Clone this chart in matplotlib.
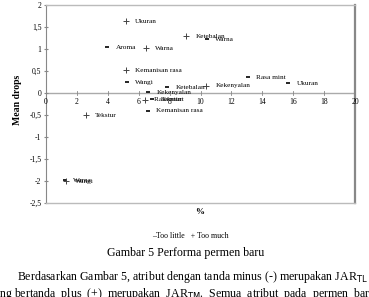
import matplotlib
matplotlib.use("Agg")
import matplotlib.pyplot as plt
from matplotlib.ticker import FuncFormatter

plt.rcParams['font.family'] = ['Liberation Serif', 'DejaVu Serif']

# Too little (-)
tl_labels = ["Aroma", "Wangi", "Ketebalan", "Kekenyalan", "Tekstur",
             "Kemanisan rasa", "Warna", "Rasa mint", "Ukuran", "Warna"]
tl_x = [3.95, 5.24, 7.83, 6.6, 6.86, 6.6, 10.4, 13.07, 15.66, 1.2]
tl_y = [1.04, 0.24, 0.13, 0.02, -0.14, -0.40, 1.22, 0.36, 0.22, -1.98]

# Too much (+)
tm_labels = ["Ukuran", "Warna", "Kemanisan rasa", "Ketebalan", "Kekenyalan",
             "Rasa mint", "Tekstur", "Wangi"]
tm_x = [5.18, 6.47, 5.18, 9.06, 10.36, 6.41, 2.59, 1.29]
tm_y = [1.63, 1.02, 0.52, 1.29, 0.16, -0.15, -0.51, -2.0]

x_ticks = [0, 2, 4, 6, 8, 10, 12, 14, 16, 18, 20]
y_ticks = [-2.5, -2, -1.5, -1, -0.5, 0, 0.5, 1, 1.5, 2]

fig = plt.figure(figsize=(3.69, 2.97), dpi=100)
ax = fig.add_axes([46/369, 1-203/297, (355-46)/369, (203-5)/297])
ax.set_xlim(0, 20)
ax.set_ylim(-2.5, 2)

fs = 5.2
ax.scatter(tl_x, tl_y, marker='_', s=10, color='black', linewidths=1.2, zorder=3)
ax.scatter(tm_x, tm_y, marker='+', s=22, color='#444444', linewidths=0.7, zorder=3)
for l, x, y in zip(tl_labels, tl_x, tl_y):
    ax.text(x + 0.55, y, l, fontsize=fs, va='center', ha='left')
for l, x, y in zip(tm_labels, tm_x, tm_y):
    ax.text(x + 0.6, y, l, fontsize=fs, va='center', ha='left')

# Spines / frame
for s in ['top', 'bottom']:
    ax.spines[s].set_color('#bbbbbb')
    ax.spines[s].set_linewidth(1.0)
ax.spines['right'].set_color('#888888')
ax.spines['right'].set_linewidth(1.6)
ax.spines['left'].set_color('#888888')
ax.spines['left'].set_linewidth(0.8)
ax.axhline(0, color='#aaaaaa', lw=1.0, zorder=1)

# y ticks
ax.set_yticks(y_ticks)
ax.yaxis.set_major_formatter(FuncFormatter(lambda v, p: ('%g' % v).replace('.', ',')))
ax.tick_params(axis='y', labelsize=5.5, length=2.5, direction='inout', color='#888888', pad=2)

# x ticks on the zero line
ax.set_xticks([])
for t in x_ticks:
    ax.plot([t, t], [-0.05, 0.05], color='#888888', lw=0.6, clip_on=False, zorder=2)
    ax.text(t, -0.11, str(t), fontsize=5.5, ha='center', va='top')

fig.text(18/369, 1-100/297, "Mean drops", rotation=90, fontsize=7, fontweight='bold',
         ha='center', va='center')
fig.text(200/369, 1-212/297, "%", fontsize=6.5, fontweight='bold', ha='center', va='center')

# legend
fig.text(190/369, 1-236/297, "\u2013Too little   + Too much", fontsize=5.7, ha='center',
         va='center')

fig.text(186/369, 1-253/297, "Gambar 5 Performa permen baru", fontsize=8.6,
         ha='center', va='center')
fig.text(17/369, 1-277/297,
         "Berdasarkan Gambar 5, atribut dengan tanda minus (-) merupakan JAR$_{\\mathrm{TL}}$ dan",
         fontsize=8.6, ha='left', va='center')
fig.text(-12/369, 1-294/297,
         "yang bertanda  plus  (+)  merupakan  JAR$_{\\mathrm{TM}}$.  Semua  atribut  pada  permen  baru",
         fontsize=8.6, ha='left', va='center')

fig.savefig("out.png", dpi=100)
